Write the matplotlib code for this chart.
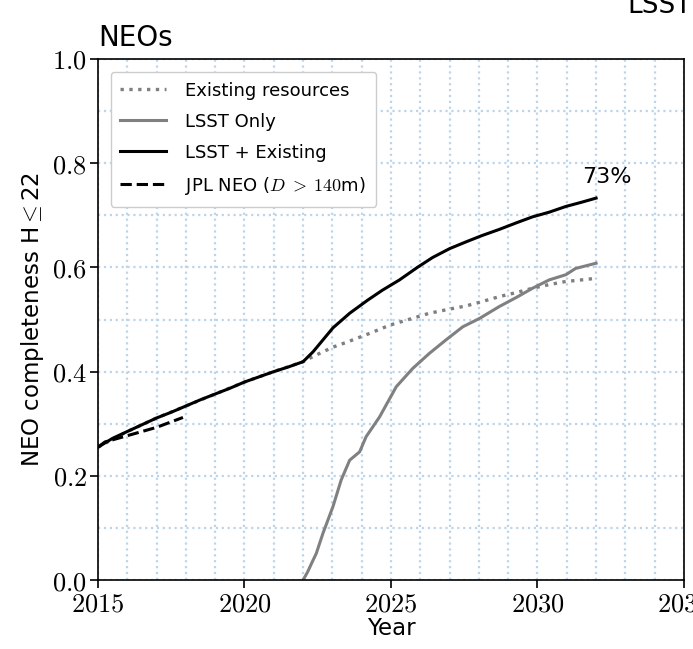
import matplotlib
matplotlib.use("Agg")
import matplotlib.pyplot as plt
from matplotlib.ticker import MultipleLocator, FuncFormatter

plt.rcParams['font.family'] = ['DejaVu Sans']
plt.rcParams['mathtext.fontset'] = 'cm'

# LSST + Existing (black)
comb_years = [2015.0, 2015.5, 2016.0, 2016.5, 2017.0, 2017.5, 2018.0, 2018.5, 2019.0, 2019.5,
              2020.0, 2020.5, 2021.0, 2021.5, 2022.0, 2022.34, 2022.68, 2023.02, 2023.59,
              2024.2, 2024.7, 2025.29, 2025.9, 2026.42, 2027.0, 2027.56, 2028.1, 2028.7,
              2029.3, 2029.83, 2030.4, 2030.97, 2031.5, 2032.0]
comb_vals = [0.255, 0.272, 0.285, 0.298, 0.311, 0.322, 0.334, 0.346, 0.357, 0.368,
             0.380, 0.390, 0.400, 0.409, 0.419, 0.438, 0.461, 0.484, 0.512,
             0.537, 0.556, 0.576, 0.600, 0.619, 0.636, 0.649, 0.661, 0.673,
             0.686, 0.697, 0.706, 0.717, 0.725, 0.733]

# Existing resources (gray dotted)
exist_years = [2015.0, 2016.0, 2017.0, 2018.0, 2019.0, 2020.0, 2021.0, 2022.0, 2022.34,
               2023.02, 2023.47, 2024.3, 2024.95, 2025.6, 2026.31, 2027.0, 2027.56, 2028.02,
               2028.7, 2029.3, 2029.83, 2030.4, 2030.97, 2031.5, 2032.0]
exist_vals = [0.255, 0.285, 0.311, 0.334, 0.357, 0.380, 0.400, 0.419, 0.429,
              0.447, 0.456, 0.474, 0.489, 0.500, 0.512, 0.520, 0.526, 0.533,
              0.544, 0.552, 0.560, 0.567, 0.573, 0.576, 0.579]

# LSST only (gray solid)
lsst_years = [2022.0, 2022.15, 2022.34, 2022.45, 2022.68, 2023.02, 2023.30, 2023.59,
              2023.93, 2024.15, 2024.61, 2025.18, 2025.74, 2026.31, 2026.88, 2027.45,
              2028.02, 2028.7, 2029.3, 2029.83, 2030.4, 2030.97, 2031.3, 2032.0]
lsst_vals = [0.0, 0.015, 0.038, 0.051, 0.090, 0.141, 0.192, 0.230,
             0.246, 0.275, 0.313, 0.371, 0.406, 0.435, 0.461, 0.486,
             0.502, 0.525, 0.543, 0.560, 0.576, 0.586, 0.598, 0.608]

# JPL NEO (D > 140 m) (black dashed)
jpl_years = [2015.0, 2015.24, 2016.0, 2017.0, 2017.9]
jpl_vals = [0.255, 0.265, 0.277, 0.293, 0.312]

final_label = "73%"

fig = plt.figure(figsize=(6.93, 6.49), dpi=100)
ax = fig.add_axes([0.1414, 0.1063, 0.8456, 0.8028])

grid_color = '#bcd5ea'
ax.xaxis.set_minor_locator(MultipleLocator(1))
ax.yaxis.set_minor_locator(MultipleLocator(0.1))
ax.xaxis.set_major_locator(MultipleLocator(5))
ax.yaxis.set_major_locator(MultipleLocator(0.2))
ax.grid(which='both', color=grid_color, linestyle=':', linewidth=1.6)
ax.set_axisbelow(True)

ax.plot(exist_years, exist_vals, color='#7f7f7f', linestyle=':', linewidth=2.4,
        label='Existing resources')
ax.plot(lsst_years, lsst_vals, color='#808080', linestyle='-', linewidth=2.2,
        label='LSST Only')
ax.plot(comb_years, comb_vals, color='black', linestyle='-', linewidth=2.2,
        label='LSST + Existing')
ax.plot(jpl_years, jpl_vals, color='black', linestyle='--', linewidth=2.2,
        label=r'JPL NEO ($D\;>\;140$m)')

ax.text(2032.38, 0.762, final_label, fontsize=16, ha='center', va='baseline')

ax.set_xlim(2015, 2035)
ax.set_ylim(0, 1.0)
ax.xaxis.set_major_formatter(FuncFormatter(lambda v, p: r'$%d$' % int(round(v))))
ax.yaxis.set_major_formatter(FuncFormatter(lambda v, p: r'$%.1f$' % v))
ax.tick_params(which='major', direction='out', length=6, width=1.2, labelsize=19,
               top=False, right=False, pad=2)
ax.tick_params(which='minor', length=0)
for s in ax.spines.values():
    s.set_linewidth(1.2)

ax.set_xlabel('Year', fontsize=16.5, labelpad=0)
ax.set_ylabel(r'NEO completeness H$\leq$22', fontsize=16.5, labelpad=4)
ax.set_title('NEOs', loc='left', fontsize=20, pad=9)

leg = ax.legend(loc='upper left', fontsize=13, frameon=True, fancybox=True,
                edgecolor='#cccccc', framealpha=1.0, handlelength=2.5,
                handletextpad=1.1, borderpad=0.55, labelspacing=0.72,
                bbox_to_anchor=(0.006, 0.993))

fig.text(0.906, 0.98, 'LSST', fontsize=19, ha='left', va='baseline')

fig.savefig('out.png', dpi=100)
